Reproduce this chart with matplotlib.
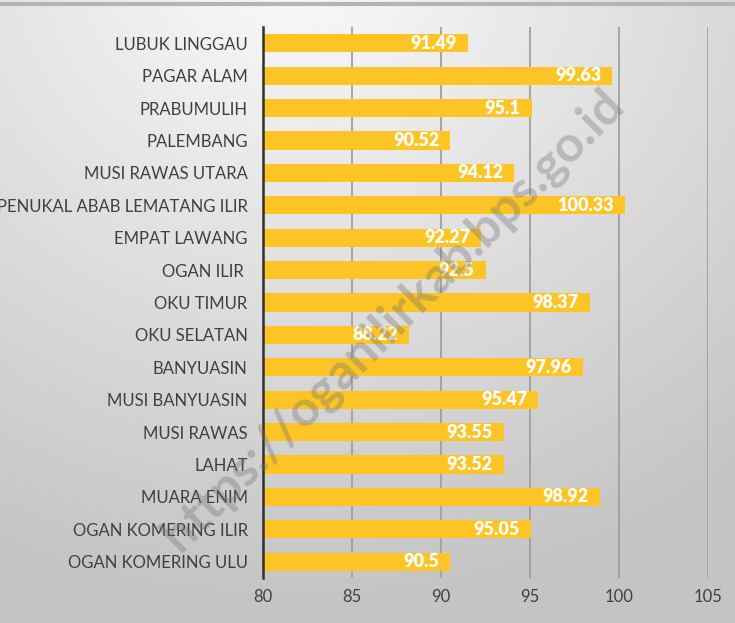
import numpy as np
import matplotlib
matplotlib.use("Agg")
import matplotlib.pyplot as plt

categories = ["LUBUK LINGGAU", "PAGAR ALAM", "PRABUMULIH", "PALEMBANG", "MUSI RAWAS UTARA",
              "PENUKAL ABAB LEMATANG ILIR", "EMPAT LAWANG", "OGAN ILIR ", "OKU TIMUR",
              "OKU SELATAN", "BANYUASIN", "MUSI BANYUASIN", "MUSI RAWAS", "LAHAT",
              "MUARA ENIM", "OGAN KOMERING ILIR", "OGAN KOMERING ULU"]
values = [91.49, 99.63, 95.1, 90.52, 94.12, 100.33, 92.27, 92.5, 98.37, 88.22,
          97.96, 95.47, 93.55, 93.52, 98.92, 95.05, 90.5]
value_labels = ["91.49", "99.63", "95.1", "90.52", "94.12", "100.33", "92.27", "92.5", "98.37",
                "88.22", "97.96", "95.47", "93.55", "93.52", "98.92", "95.05", "90.5"]
xticks = [80, 85, 90, 95, 100, 105]

W, H = 735, 623
fig = plt.figure(figsize=(W / 100, H / 100), dpi=100)

# background gradient
bg = fig.add_axes([0, 0, 1, 1], zorder=-10)
yy, xx = np.mgrid[0:H, 0:W]
d = np.sqrt(((xx - W * 0.4) / W) ** 2 + ((yy + 40) / H * 0.95) ** 2)
g = np.clip(0.985 - 0.22 * d, 0.77, 0.98)
bg.imshow(np.dstack([g, g, g]), aspect="auto", extent=[0, W, H, 0])
bg.plot([0, W], [4, 4], color="#B4B4B4", lw=3)
bg.set_xlim(0, W)
bg.set_ylim(H, 0)
bg.axis("off")

ax = fig.add_axes([263 / W, 1 - 578 / H, (708 - 263) / W, (578 - 27) / H])
ax.patch.set_alpha(0)
y = np.arange(len(categories))
ax.barh(y, [v - 80 for v in values], left=80, height=0.56, color="#FCC425", zorder=3)
ax.set_xlim(80, 105)
ax.set_ylim(len(categories) - 0.5, -0.5)
ax.set_yticks(y)
ax.set_yticklabels(categories, fontfamily="Lato", fontsize=12, color="#404040")
ax.set_xticks(xticks)
ax.set_xticklabels([str(t) for t in xticks], fontfamily="Lato", fontsize=12, color="#404040")
ax.tick_params(length=0)
ax.tick_params(axis="y", pad=11)
ax.tick_params(axis="x", pad=8)
for s in ["top", "right", "bottom"]:
    ax.spines[s].set_visible(False)
ax.spines["left"].set_color("#303030")
ax.spines["left"].set_linewidth(1.8)
ax.spines["left"].set_zorder(5)
for t in xticks[1:]:
    ax.axvline(t, color="#A0A0A0", lw=1.3, zorder=1)

for yi, v, lab in zip(y, values, value_labels):
    ax.annotate(lab, (v, yi), xytext=(-8, 0), textcoords="offset points",
                ha="right", va="center", color="white", fontweight="heavy",
                fontfamily="Lato", fontsize=13, zorder=6)

fig.text(393 / W, 1 - 320 / H, "https://oganilirkab.bps.go.id", rotation=45,
         ha="center", va="center", fontsize=36, fontweight="bold", fontfamily="Lato",
         color="#707070", alpha=0.35, zorder=20)

fig.savefig("out.png", dpi=100)
